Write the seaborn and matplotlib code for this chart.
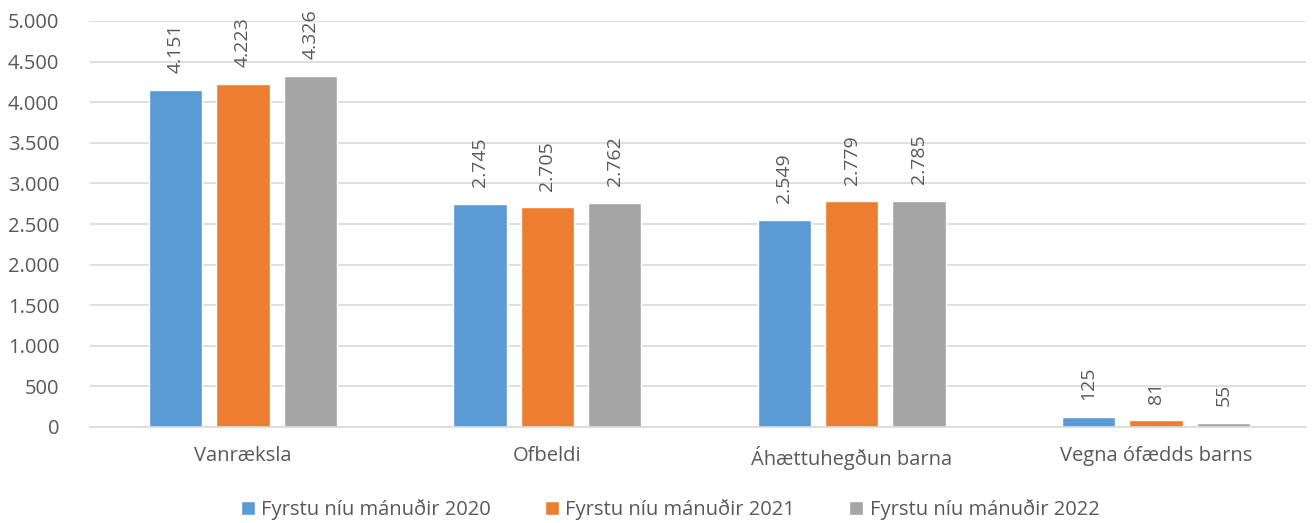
import pandas as pd
import matplotlib.pyplot as plt
import seaborn as sns

# Data
categories = ['Vanræksla', 'Ofbeldi', 'Áhættuhegðun barna', 'Vegna ófædds barns']
series_names = ['Fyrstu níu mánuðir 2020', 'Fyrstu níu mánuðir 2021', 'Fyrstu níu mánuðir 2022']
values_2020 = [4151, 2745, 2549, 125]
values_2021 = [4223, 2705, 2779, 81]
values_2022 = [4326, 2762, 2785, 55]
colors = ['#5B9BD5', '#ED7D31', '#A5A5A5']
yticks = [0, 500, 1000, 1500, 2000, 2500, 3000, 3500, 4000, 4500, 5000]


def is_fmt(v):
    # Icelandic thousands separator
    return f"{int(round(v)):,}".replace(',', '.')


def main():
    rows = []
    for name, vals in zip(series_names, [values_2020, values_2021, values_2022]):
        for cat, v in zip(categories, vals):
            rows.append({'Flokkur': cat, 'Röð': name, 'Fjöldi': v})
    df = pd.DataFrame(rows)

    sns.set_theme(style="white")
    plt.rcParams['font.family'] = ['Open Sans', 'DejaVu Sans']
    text_color = '#595959'
    grid_color = '#D9D9D9'

    fig = plt.figure(figsize=(13.12, 5.23), dpi=100)
    ax = fig.add_axes([90 / 1312, 96 / 523, 1216 / 1312, 406 / 523])

    sns.barplot(data=df, x='Flokkur', y='Fjöldi', hue='Röð', order=categories,
                hue_order=series_names, palette=colors, width=0.664, gap=0.21,
                saturation=1, ax=ax, legend=True)

    for cont in ax.containers:
        ax.bar_label(cont, labels=[is_fmt(b.get_height()) for b in cont],
                     rotation=90, padding=12, fontsize=14, color=text_color)

    ax.set_ylim(0, 5000)
    ax.set_xlim(-0.503, 3.493)
    ax.set_yticks(yticks)
    ax.set_yticklabels([is_fmt(t) for t in yticks])
    ax.yaxis.grid(True, color=grid_color, linewidth=1.2)
    ax.set_axisbelow(True)
    for s in ['top', 'right', 'left']:
        ax.spines[s].set_visible(False)
    ax.spines['bottom'].set_color(grid_color)
    ax.spines['bottom'].set_linewidth(1.2)
    ax.tick_params(axis='both', length=0, labelsize=14.5, labelcolor=text_color)
    ax.tick_params(axis='y', pad=22)
    ax.tick_params(axis='x', pad=14)
    ax.set_xlabel('')
    ax.set_ylabel('')

    ax.legend(loc='lower center', bbox_to_anchor=(0.5 - 28 / 1216, -0.274), ncol=3,
              frameon=False, fontsize=14.5, labelcolor=text_color,
              handlelength=0.7, handleheight=0.7, handletextpad=0.3,
              columnspacing=2.7)

    fig.savefig('out.png', dpi=100)


if __name__ == "__main__":
    main()
